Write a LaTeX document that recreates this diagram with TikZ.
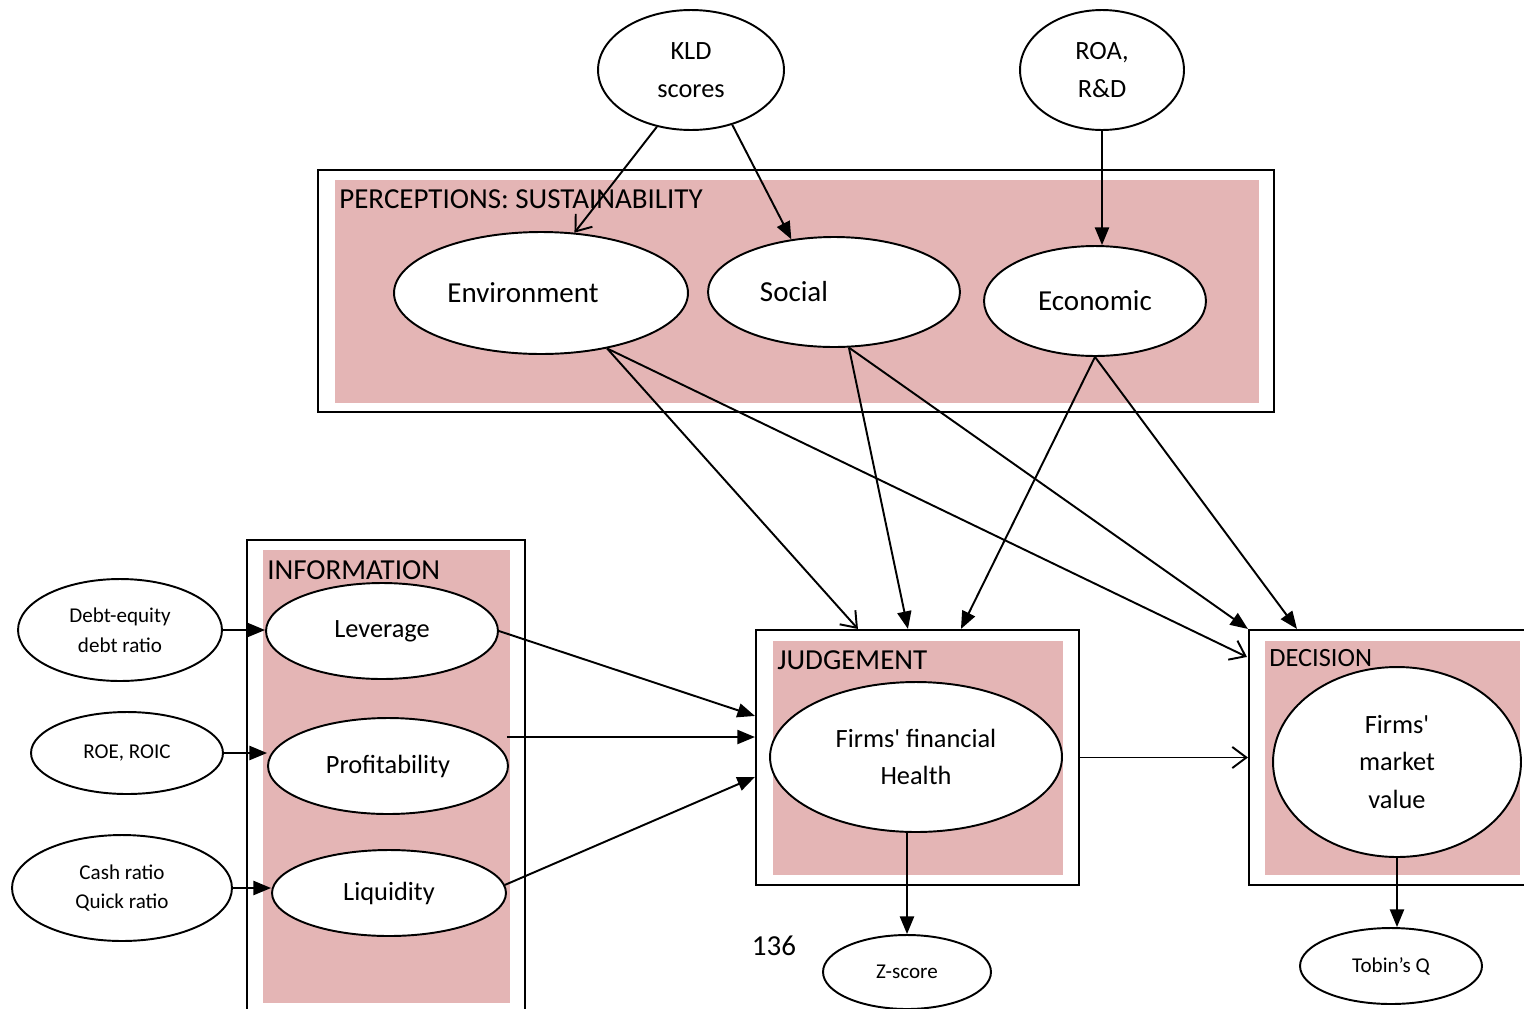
\documentclass[tikz,border=0pt]{standalone}
\usepackage{fontspec}
\setmainfont{Carlito}
\usepackage{tikz}
\usetikzlibrary{calc,arrows.meta,shapes.geometric,fit}
\definecolor{ink}{HTML}{000000}
\definecolor{rose}{HTML}{E4B5B5}
\tikzset{
  outerbox/.style={draw=ink, fill=white, line width=1.2pt, inner sep=0pt},
  pinkbg/.style={fill=rose, draw=none, inner sep=0pt},
  oval/.style={ellipse, draw=ink, fill=white, line width=1.1pt, inner sep=0pt, align=center},
  bigtxt/.style={font=\fontsize{16.5}{21.5}\selectfont},
  midtxt/.style={font=\fontsize{15}{21.5}\selectfont},
  smalltxt/.style={font=\fontsize{12}{17}\selectfont},
  boxtitle/.style={anchor=west, inner sep=0pt},
  fillarrow/.style={draw=ink, line width=1.1pt, -{Triangle[length=10pt,width=8pt]}},
  openarrow/.style={draw=ink, line width=1.1pt, -{Straight Barb[length=8pt,width=12pt]}},
}

\begin{document}
\begin{tikzpicture}[x=0.02cm, y=-0.02cm]
  \useasboundingbox (0,0) rectangle (1524,1008);
  \clip (0,0) rectangle (1524,1008);
  % boxes
  \node[outerbox, fit={(318,170) (1274,412)}] (perc) {};
  \node[pinkbg, fit={(335,180) (1259,403)}] (percbg) {};
  \node[outerbox, fit={(247,540) (525,1030)}] (info) {};
  \node[pinkbg, fit={(263,550) (510,1003)}] (infobg) {};
  \node[outerbox, fit={(756,630) (1079,885)}] (judge) {};
  \node[pinkbg, fit={(773,641) (1063,875)}] (judgebg) {};
  \node[outerbox, fit={(1249,630) (1545,885)}] (dec) {};
  \node[pinkbg, fit={(1265,641) (1520,875)}] (decbg) {};
  \node[bigtxt, boxtitle] (perct) at (339,199) {PERCEPTIONS: SUSTAINABILITY};
  \node[bigtxt, boxtitle] (infot) at (267,570) {INFORMATION};
  \node[bigtxt, boxtitle] (judget) at (777,660) {JUDGEMENT};
  \node[midtxt, boxtitle] (dect) at (1269,658) {DECISION};
  % ovals
  \node[oval, midtxt, minimum width=3.72cm, minimum height=2.4cm] (kld) at (691,70) {KLD\\scores};
  \node[oval, midtxt, minimum width=3.28cm, minimum height=2.4cm] (roa) at (1102,70) {ROA,\\R\&D};
  \node[oval, minimum width=5.88cm, minimum height=2.44cm] (env) at (541,293) {};
  \node[bigtxt] (envt) at (523,293) {Environment};
  \node[oval, minimum width=5.04cm, minimum height=2.2cm] (soc) at (834,292) {};
  \node[bigtxt] (soct) at (794,292) {Social};
  \node[oval, bigtxt, minimum width=4.44cm, minimum height=2.2cm] (eco) at (1095,301) {Economic};
  \node[oval, midtxt, minimum width=4.64cm, minimum height=1.92cm] (lev) at (382,631) {Leverage};
  \node[oval, midtxt, minimum width=4.8cm, minimum height=1.92cm] (prof) at (388,766) {Profitability};
  \node[oval, midtxt, minimum width=4.68cm, minimum height=1.72cm] (liq) at (389,893) {Liquidity};
  \node[oval, smalltxt, minimum width=4.08cm, minimum height=2.04cm] (debt) at (120,630) {Debt-equity\\debt ratio};
  \node[oval, smalltxt, minimum width=3.84cm, minimum height=1.64cm] (roe) at (127,753) {ROE, ROIC};
  \node[oval, smalltxt, minimum width=4.4cm, minimum height=2.12cm] (cash) at (122,888) {Cash ratio\\Quick ratio};
  \node[oval, midtxt, minimum width=5.84cm, minimum height=3cm] (health) at (916,757) {Firms\textquotesingle{} financial\\Health};
  \node[oval, midtxt, minimum width=4.96cm, minimum height=3.8cm] (mv) at (1397,762) {Firms\textquotesingle\\market\\value};
  \node[oval, smalltxt, minimum width=3.36cm, minimum height=1.48cm] (zs) at (907,972) {Z-score};
  \node[oval, smalltxt, minimum width=3.64cm, minimum height=1.52cm] (tobin) at (1391,966) {Tobin’s Q};
  \node[bigtxt] (page) at (774,946) {136};
  % arrows
  \draw[openarrow] (kld.-121) -- (env.61);
  \draw[fillarrow] (kld.-53) -- (soc.129);
  \draw[fillarrow] (roa.south) -- (roa.south |- eco.north);
  \draw[openarrow] (env.-40) -- ($(judge.north west)+(103,0)$);
  \draw[openarrow] (env.-40) -- ($(dec.north west)+(-1,28)$);
  \draw[fillarrow] (soc.-75) -- ($(judge.north west)+(153,0)$);
  \draw[fillarrow] (soc.-75) -- (dec.north west);
  \draw[fillarrow] (eco.south) -- ($(judge.north west)+(206,0)$);
  \draw[fillarrow] (eco.south) -- ($(dec.north west)+(49,0)$);
  \draw[fillarrow] (lev.east) -- ($(judge.north west)+(0,87)$);
  \draw[fillarrow] ($(prof.east)+(-2,-29)$) coordinate (pr) -- (pr -| judge.west);
  \draw[fillarrow] (liq.4) -- ($(judge.north west)+(0,148)$);
  \draw[openarrow] (judge.east) -- (judge.east -| dec.west);
  \draw[fillarrow] (zs.north |- health.south) -- (zs.north);
  \draw[fillarrow] (mv.south) -- (mv.south |- tobin.north);
  \draw[fillarrow] (debt.east) -- (debt.east -| lev.west);
  \draw[fillarrow] (roe.east) -- (roe.east -| prof.west);
  \draw[fillarrow] (cash.east) -- (cash.east -| liq.west);
\end{tikzpicture}
\end{document}
